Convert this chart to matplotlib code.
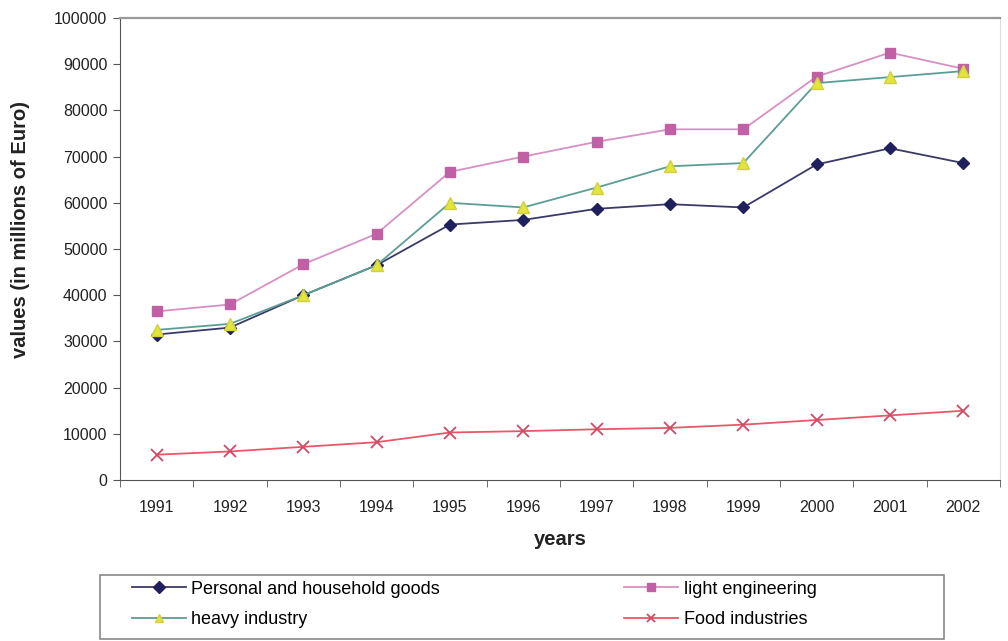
import matplotlib.pyplot as plt
import matplotlib.patches as mpatches
import numpy as np

plt.rcParams['font.family'] = ['Liberation Sans', 'DejaVu Sans']

years = ["1991", "1992", "1993", "1994", "1995", "1996", "1997", "1998", "1999", "2000", "2001", "2002"]
personal = [31500, 33000, 40000, 46500, 55300, 56300, 58700, 59700, 59000, 68300, 71800, 68600]
light_eng = [36500, 38000, 46700, 53300, 66700, 70000, 73200, 75900, 75900, 87300, 92500, 89000]
heavy = [32500, 33800, 40000, 46500, 60000, 59000, 63300, 67900, 68600, 85900, 87200, 88500]
food = [5500, 6200, 7200, 8200, 10300, 10600, 11000, 11300, 12000, 13000, 14000, 15000]

x = np.arange(len(years))

fig = plt.figure(figsize=(10.08, 6.41), dpi=100)
ax = fig.add_axes([0.119, 0.251, 0.873, 0.721])

l1, = ax.plot(x, personal, color="#3a3a6a", lw=1.3, marker="D", ms=6,
              mfc="#20205e", mec="#20205e", label="Personal and household goods")
l2, = ax.plot(x, light_eng, color="#d890c4", lw=1.3, marker="s", ms=7,
              mfc="#c260a6", mec="#c260a6", label="light engineering")
l3, = ax.plot(x, heavy, color="#5c9e94", lw=1.3, marker="^", ms=8,
              mfc="#e2e63a", mec="#d0d040", label="heavy industry")
l4, = ax.plot(x, food, color="#e85868", lw=1.3, marker="x", ms=9, mew=1.3,
              mec="#d04a66", label="Food industries")

ax.set_xlim(-0.5, len(years) - 0.5)
ax.set_ylim(0, 100000)
ax.set_yticks(range(0, 100001, 10000))
ax.set_yticklabels([str(v) for v in range(0, 100001, 10000)], fontsize=11.5, color="#222222")
ax.set_xticks(x)
ax.set_xticklabels(years, fontsize=11.5, color="#222222")
ax.set_xticks(np.arange(-0.5, len(years)), minor=True)
ax.tick_params(axis="x", which="major", length=0, pad=14)
ax.tick_params(axis="x", which="minor", length=5, color="#555555", direction="out")
ax.tick_params(axis="y", length=5, color="#555555", direction="out", pad=4)

ax.spines["left"].set_color("#555555")
ax.spines["bottom"].set_color("#555555")
ax.spines["top"].set_color("#999999")
ax.spines["top"].set_linewidth(1.6)
ax.spines["right"].set_color("#dddddd")

ax.set_xlabel("years", fontsize=14.5, fontweight="bold", labelpad=11, color="#222222")
ax.set_ylabel("values (in millions of Euro)", fontsize=14.5, fontweight="bold", color="#222222")
ax.yaxis.set_label_coords(-0.102, 0.543)

# legend box drawn separately so the columns can sit where they are in the original
fig.patches.append(mpatches.Rectangle((100 / 1008, 2 / 641), 844 / 1008, 64 / 641,
                                      transform=fig.transFigure, fill=False,
                                      edgecolor="#888888", lw=1.2))
leg = fig.legend([l1, l3, l2, l4],
                 [l1.get_label(), l3.get_label(), l2.get_label(), l4.get_label()],
                 loc="upper left", bbox_to_anchor=(128 / 1008, 1 - 577 / 641),
                 ncol=2, fontsize=13, frameon=False, borderaxespad=0,
                 handlelength=3.0, labelspacing=0.75, handletextpad=0.3,
                 columnspacing=10.2, borderpad=0.2)
for h in leg.legend_handles:
    h.set_markersize(6)

fig.savefig("out.png", dpi=100)
